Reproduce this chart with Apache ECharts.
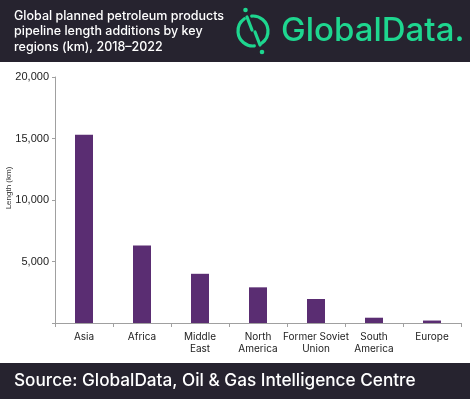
<!DOCTYPE html>
<html><head><meta charset="utf-8">
<script src="https://cdn.jsdelivr.net/npm/echarts@6/dist/echarts.min.js"></script>
<style>html,body{margin:0;padding:0;background:#fff}#c{width:470px;height:399px}</style>
</head><body><div id="c"></div>
<script>
const categories = ['Asia', 'Africa', 'Middle\nEast', 'North\nAmerica', 'Former Soviet\nUnion', 'South\nAmerica', 'Europe'];
const values = [15300, 6300, 4000, 2900, 1950, 430, 200];
const yTicks = [0, 5000, 10000, 15000, 20000];
const titleLines = ['Global planned petroleum products', 'pipeline length additions by key', 'regions (km), 2018\u20132022'];
const sourceText = 'Source: GlobalData, Oil & Gas Intelligence Centre';

const dark = '#26232f';
const green = '#1ed68f';
const chart = echarts.init(document.getElementById('c'), null, {renderer: 'canvas'});
chart.setOption({
  animation: false,
  backgroundColor: '#fff',
  grid: {left: 55, right: 9, top: 77, bottom: 76},
  xAxis: {
    type: 'category', data: categories, boundaryGap: true,
    axisLine: {lineStyle: {color: '#a0a0a0', width: 1}},
    axisTick: {show: true, length: 4, lineStyle: {color: '#a0a0a0'}},
    axisLabel: {color: '#222', fontFamily: 'Inter', fontSize: 10, lineHeight: 12, margin: 8, interval: 0}
  },
  yAxis: {
    type: 'value', min: yTicks[0], max: yTicks[yTicks.length - 1], interval: yTicks[1] - yTicks[0],
    axisLine: {show: true, lineStyle: {color: '#a0a0a0'}},
    axisTick: {show: true, length: 3, lineStyle: {color: '#a0a0a0'}},
    splitLine: {show: false},
    axisLabel: {color: '#222', fontFamily: 'Arial, Liberation Sans', fontSize: 11, margin: 6,
      formatter: v => v === 0 ? '' : v.toLocaleString('en-US')}
  },
  series: [{type: 'bar', data: values, barWidth: 18, itemStyle: {color: '#5a2d72'}}],
  graphic: [
    {type: 'rect', shape: {x: 0, y: 0, width: 470, height: 62}, style: {fill: dark}, z: 0},
    {type: 'rect', shape: {x: 0, y: 363, width: 470, height: 36}, style: {fill: dark}, z: 0},
    ...titleLines.map((t, i) => ({type: 'text', x: 14, y: 16 + i * 15.5, z: 10,
      style: {text: t, fill: '#fff', font: '500 12.5px Inter', textVerticalAlign: 'middle'}})),
    {type: 'text', x: 14, y: 381, z: 10,
      style: {text: sourceText, fill: '#fff', font: '500 17.2px Inter', textVerticalAlign: 'middle'}},
    {type: 'text', x: 281, y: 31, z: 10,
      style: {text: 'GlobalData.', fill: green, font: '500 33px Inter', textVerticalAlign: 'middle'}},
    {type: 'arc', z: 10, shape: {cx: 253, cy: 31, r: 15, startAngle: Math.PI * 85 / 180, endAngle: Math.PI * 235 / 180},
      style: {stroke: green, lineWidth: 3.2, fill: null, lineCap: 'round'}},
    {type: 'arc', z: 10, shape: {cx: 253, cy: 31, r: 15, startAngle: -Math.PI * 95 / 180, endAngle: Math.PI * 55 / 180},
      style: {stroke: green, lineWidth: 3.2, fill: null, lineCap: 'round'}},
    {type: 'line', z: 10, shape: {x1: 247, y1: 17, x2: 252, y2: 30}, style: {stroke: green, lineWidth: 3.2, lineCap: 'round'}},
    {type: 'line', z: 10, shape: {x1: 255, y1: 32, x2: 260, y2: 45}, style: {stroke: green, lineWidth: 3.2, lineCap: 'round'}},
    {type: 'circle', z: 10, shape: {cx: 245.5, cy: 10, r: 2.3}, style: {fill: green}},
    {type: 'circle', z: 10, shape: {cx: 262, cy: 52, r: 2.3}, style: {fill: green}},
    {type: 'text', x: 9, y: 188, rotation: Math.PI / 2, z: 10,
      style: {text: 'Length (km)', fill: '#333', font: '8px Arial, Liberation Sans', textAlign: 'center', textVerticalAlign: 'middle'}}
  ]
});
</script></body></html>
